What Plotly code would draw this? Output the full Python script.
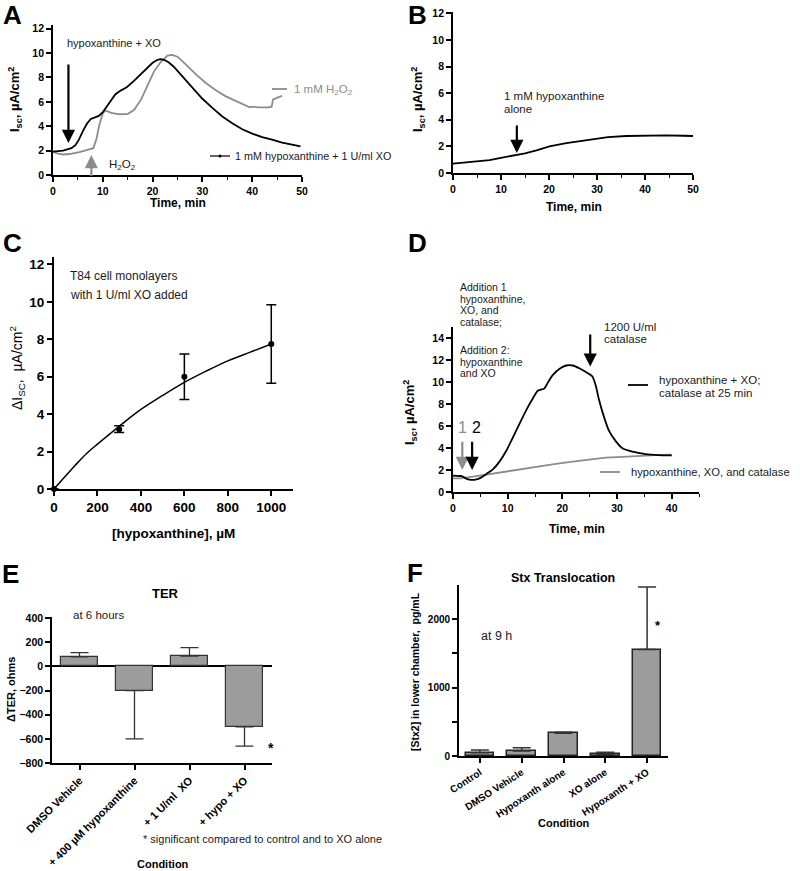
import plotly.graph_objects as go

W, H = 800, 871
FONT = "Liberation Sans, Arial, Helvetica, sans-serif"
NARROW = "Liberation Sans Narrow, Arial Narrow, Liberation Sans, Arial, sans-serif"
GRAY = "#8c8c8c"
BARC = "#9c9c9c"

# ---------------- data ----------------
# Panel A
a_t_hx = [0, 1, 2, 2.7, 3.2, 3.7, 4.5, 5.2, 6, 6.8, 7.6, 8.4, 9.2, 10, 10.8, 11.6, 12.5, 13.5, 14.8,
          16.2, 17.5, 18.8, 20, 21, 21.6, 22.3, 23.2, 24.2, 26, 28, 30, 32, 34, 36, 38, 40, 42, 44,
          46, 48, 49.7]
a_v_hx = [1.92, 1.95, 2.0, 2.08, 2.15, 2.2, 2.45, 2.9, 3.6, 4.2, 4.6, 4.75, 4.85, 5.15, 5.6, 6.15,
          6.6, 6.9, 7.2, 7.7, 8.2, 8.75, 9.2, 9.45, 9.5, 9.45, 9.25, 8.9, 8.1, 7.15, 6.25, 5.5, 4.8,
          4.25, 3.75, 3.4, 3.1, 2.9, 2.65, 2.5, 2.35]
a_t_h2o2 = [0, 1, 2, 3.3, 5.3, 7.3, 8.1, 8.7, 9.3, 10, 10.5, 11.7, 13.3, 15, 16.3, 17.7, 19, 20.3,
            21.7, 23, 23.9, 25, 26.7, 28.7, 30.7, 32.7, 34.7, 36.7, 38.7, 39.5, 40, 41.3, 43.3,
            43.9, 44.2, 45, 45.7, 46]
a_v_h2o2 = [1.9, 1.75, 1.68, 1.72, 1.88, 2.08, 2.2, 2.9, 4.1, 5.05, 5.3, 5.1, 4.98, 5.0, 5.35, 6.2,
            7.3, 8.5, 9.3, 9.8, 9.85, 9.7, 9.05, 8.25, 7.55, 6.95, 6.45, 6.05, 5.7, 5.55, 5.6,
            5.55, 5.55, 5.6, 6.2, 6.3, 6.45, 6.5]
a_hx_add = 3.1      # min, hypoxanthine + XO added
a_h2o2_add = 7.7    # min, H2O2 added

# Panel B
b_t = [0, 2.8, 7.6, 9.7, 12.5, 14.6, 15, 17.4, 20.1, 23.6, 27.1, 29.9, 32.3, 36.1, 40.3, 44.4, 47.9, 50]
b_v = [0.7, 0.8, 0.97, 1.12, 1.3, 1.4, 1.48, 1.7, 2.0, 2.25, 2.45, 2.6, 2.7, 2.78, 2.83, 2.83, 2.8, 2.78]
b_add = 13.3

# Panel C
c_conc = [0, 300, 600, 1000]
c_delta = [0, 3.2, 6.0, 7.75]
c_err = [0, 0.18, 1.22, 2.1]
c_fit_conc = [0, 50, 100, 150, 200, 300, 400, 500, 600, 700, 800, 900, 1000]
c_fit_delta = [0, 0.65, 1.3, 1.9, 2.4, 3.35, 4.25, 5.0, 5.7, 6.3, 6.85, 7.3, 7.75]

# Panel D
d_t_hx = [0, 1, 1.6, 2.5, 3.4, 4.3, 5.2, 6.1, 7.3, 8.5, 9.8, 11, 12.2, 13.4, 14.6, 15.5, 16.1, 16.7,
          17.3, 18.2, 19.5, 20.7, 21.9, 23.1, 24.3, 25.5, 26.1, 26.7, 27.6, 28.5, 29.8, 31, 32.8,
          35.2, 37.6, 40]
d_v_hx = [1.48, 1.45, 1.45, 1.2, 1.1, 1.15, 1.33, 1.64, 2.06, 2.76, 3.8, 5.0, 6.24, 7.45, 8.5, 9.2,
          9.3, 9.4, 9.9, 10.6, 11.2, 11.5, 11.5, 11.25, 10.9, 10.5, 9.7, 8.4, 6.85, 5.6, 4.6, 3.97,
          3.67, 3.45, 3.36, 3.33]
d_t_cat = [0, 1.3, 3.7, 6.7, 9.8, 12.8, 15.8, 18.8, 21.9, 24.9, 27.9, 31, 34, 37, 40]
d_v_cat = [1.24, 1.24, 1.4, 1.64, 1.85, 2.1, 2.3, 2.55, 2.76, 2.97, 3.12, 3.2, 3.3, 3.36, 3.4]
d_add1 = 1.7
d_add2 = 3.5
d_catalase = 25.1

# Panel E
e_cond = ["DMSO Vehicle", "+ 400 µM hypoxanthine", "+ 1 U/ml  XO", "+ hypo + XO"]
e_dter = [80, -200, 85, -500]
e_err_up = [35, 0, 72, 0]
e_err_down = [0, 400, 0, 160]

# Panel F
f_cond = ["Control", "DMSO Vehicle", "Hypoxanth alone", "XO alone", "Hypoxanth + XO"]
f_stx = [48, 73, 331, 24, 1557]
f_err = [40, 48, 15, 30, 915]

# ---------------- helpers ----------------
def dx(x0, x1):
    return [x0 / W, x1 / W]

def dy(ybottom, ytop):
    return [1 - ybottom / H, 1 - ytop / H]

def ann(text, x, y, size=11, bold=False, color="#1a1a1a", xanchor="left", yanchor="middle",
        angle=0, family=FONT):
    return dict(text=text, x=x / W, y=1 - y / H, xref="paper", yref="paper", showarrow=False,
                xanchor=xanchor, yanchor=yanchor, textangle=angle,
                font=dict(family=family, size=size, color=color,
                          weight="bold" if bold else "normal"))

def arrow(xr, yr, x, y_tip, y_tail, color="black"):
    return dict(x=x, y=y_tip, ax=x, ay=y_tail, xref=xr, yref=yr, axref=xr, ayref=yr,
                showarrow=True, arrowhead=2, arrowsize=1.2, arrowwidth=2.2,
                arrowcolor=color, text="")

def axis(**kw):
    base = dict(showline=True, linecolor="black", linewidth=1.8, ticks="outside", ticklen=5,
                tickwidth=1.5, tickcolor="black", showgrid=False, zeroline=False,
                automargin=False,
                tickfont=dict(family=FONT, size=10.5, color="black", weight="bold"),
                fixedrange=True)
    base.update(kw)
    return base

minor5 = dict(dtick=5, ticks="outside", ticklen=3, tickwidth=1.2, tickcolor="black")

fig = go.Figure()

# A
fig.add_trace(go.Scatter(x=a_t_h2o2, y=a_v_h2o2, mode="lines", line=dict(color=GRAY, width=1.8),
                         xaxis="x", yaxis="y"))
fig.add_trace(go.Scatter(x=a_t_hx, y=a_v_hx, mode="lines", line=dict(color="black", width=1.8),
                         xaxis="x", yaxis="y"))
# B
fig.add_trace(go.Scatter(x=b_t, y=b_v, mode="lines", line=dict(color="black", width=1.8),
                         xaxis="x2", yaxis="y2"))
# C
fig.add_trace(go.Scatter(x=c_fit_conc, y=c_fit_delta, mode="lines",
                         line=dict(color="black", width=1.5, shape="spline"),
                         xaxis="x3", yaxis="y3", cliponaxis=False))
fig.add_trace(go.Scatter(x=c_conc, y=c_delta, mode="markers", marker=dict(color="black", size=6),
                         error_y=dict(type="data", array=c_err, color="black", thickness=1.5, width=5),
                         xaxis="x3", yaxis="y3", cliponaxis=False))
# D
fig.add_trace(go.Scatter(x=d_t_cat, y=d_v_cat, mode="lines", line=dict(color=GRAY, width=1.8),
                         xaxis="x4", yaxis="y4"))
fig.add_trace(go.Scatter(x=d_t_hx, y=d_v_hx, mode="lines",
                         line=dict(color="black", width=1.8, shape="spline", smoothing=0.6),
                         xaxis="x4", yaxis="y4"))
# E
fig.add_trace(go.Bar(x=e_cond, y=e_dter, width=0.67, xaxis="x5", yaxis="y5",
                     marker=dict(color=BARC, line=dict(color="#333333", width=1.2)),
                     error_y=dict(type="data", symmetric=False, array=e_err_up, arrayminus=e_err_down,
                                  color="#333333", thickness=1.3, width=9)))
# F
fig.add_trace(go.Bar(x=f_cond, y=f_stx, width=0.68, xaxis="x6", yaxis="y6",
                     marker=dict(color=BARC, line=dict(color="#222222", width=1.5)),
                     error_y=dict(type="data", symmetric=False, array=f_err, arrayminus=[0] * len(f_err),
                                  color="#333333", thickness=1.5, width=9)))

layout = dict(
    width=W, height=H, margin=dict(l=0, r=0, t=0, b=0, autoexpand=False), showlegend=False,
    paper_bgcolor="white", plot_bgcolor="white", bargap=0,
    xaxis=axis(domain=dx(53, 302), range=[0, 50], dtick=10, anchor="y", minor=minor5),
    yaxis=axis(domain=dy(175, 25), range=[0, 12.3], dtick=2, anchor="x"),
    xaxis2=axis(domain=dx(453, 693), range=[0, 50], dtick=10, anchor="y2", minor=minor5),
    yaxis2=axis(domain=dy(173, 12), range=[0, 12.1], dtick=2, anchor="x2"),
    xaxis3=axis(domain=dx(54, 293), range=[0, 1100], dtick=200, anchor="y3", linewidth=2,
                tickfont=dict(family=NARROW, size=13.5, color="black", weight="bold")),
    yaxis3=axis(domain=dy(489, 257), range=[0, 12.4], dtick=2, anchor="x3", linewidth=2,
                tickfont=dict(family=NARROW, size=13.5, color="black", weight="bold")),
    xaxis4=axis(domain=dx(453, 699), range=[0, 45], dtick=10, anchor="y4", minor=minor5),
    yaxis4=axis(domain=dy(492, 327), range=[0, 15], dtick=2, anchor="x4"),
    xaxis5=axis(domain=dx(52, 272), range=[-0.5, 3.5], anchor="y5", type="category",
                tickangle=-45, linewidth=1.5,
                tickfont=dict(family=FONT, size=11, color="black", weight="bold")),
    yaxis5=axis(domain=dy(763, 617), range=[-800, 410], dtick=200, anchor="x5", linewidth=1.5,
                zeroline=True, zerolinecolor="black", zerolinewidth=1.5),
    xaxis6=axis(domain=dx(459, 668), range=[-0.5, 4.5], anchor="y6", type="category",
                tickangle=-33, linewidth=1.8,
                tickfont=dict(family=FONT, size=10, color="black", weight="bold")),
    yaxis6=axis(domain=dy(756, 585), range=[0, 2500], anchor="x6", linewidth=1.8,
                tickmode="array", tickvals=[0, 500, 1000, 1500, 2000],
                ticktext=["0", "", "1000", "", "2000"],
                tickfont=dict(family=FONT, size=10, color="black", weight="bold")),
)

isc = "I<sub>sc</sub>, µA/cm<sup>2</sup>"
anns = [
    # panel letters
    ann("A", 12, 15, size=26, bold=True, color="black", xanchor="center"),
    ann("B", 417, 15, size=26, bold=True, color="black", xanchor="center"),
    ann("C", 12, 243, size=26, bold=True, color="black", xanchor="center"),
    ann("D", 417, 243, size=26, bold=True, color="black", xanchor="center"),
    ann("E", 10, 574, size=26, bold=True, color="black", xanchor="center"),
    ann("F", 415, 573, size=26, bold=True, color="black", xanchor="center"),
    # axis titles
    ann(isc, 15, 100, size=13, bold=True, color="black", xanchor="center", angle=-90),
    ann("Time, min", 178, 203, size=12, bold=True, color="black", xanchor="center"),
    ann(isc, 418, 100, size=13, bold=True, color="black", xanchor="center", angle=-90),
    ann("Time, min", 574, 207, size=12, bold=True, color="black", xanchor="center"),
    ann("ΔI<sub>SC</sub>,  µA/cm<sup>2</sup>", 17, 368, size=14, color="black", xanchor="center",
        angle=-90, family=NARROW),
    ann("[hypoxanthine], µM", 173, 533, size=13.5, bold=True, color="black", xanchor="center",
        family=NARROW),
    ann(isc, 410, 412, size=13, bold=True, color="black", xanchor="center", angle=-90),
    ann("Time, min", 577, 529, size=12, bold=True, color="black", xanchor="center"),
    ann("ΔTER, ohms", 11, 690, size=11, bold=True, color="black", xanchor="center", angle=-90),
    ann("Condition", 163, 864, size=11, bold=True, color="black", xanchor="center"),
    ann("[Stx2] in lower chamber,  pg/mL", 415, 672, size=10.5, bold=True, color="black",
        xanchor="center", angle=-90),
    ann("Condition", 564, 823, size=11, bold=True, color="black", xanchor="center"),
    # panel titles
    ann("TER", 165, 593, size=13, bold=True, color="black", xanchor="center"),
    ann("Stx Translocation", 563, 578, size=12.5, bold=True, color="black", xanchor="center"),
    # A texts
    ann("hypoxanthine + XO", 65, 43, size=11),
    ann("H<sub>2</sub>O<sub>2</sub>", 107, 165, size=11.5),
    ann("1 mM H<sub>2</sub>O<sub>2</sub>", 292, 90, size=11.5, color=GRAY),
    ann("1 mM hypoxanthine + 1 U/ml XO", 233, 156, size=10.8),
    # B text
    ann("1 mM hypoxanthine", 502, 96, size=11.5),
    ann("alone", 502, 109, size=11.5),
    # C text
    ann("T84 cell monolayers", 68, 276, size=12, family=NARROW),
    ann("with 1 U/ml XO added", 68, 295, size=12, family=NARROW),
    # D texts
    ann("Addition 1", 458, 287, size=10.5),
    ann("hypoxanthine,", 458, 298.5, size=10.5),
    ann("XO, and", 458, 310, size=10.5),
    ann("catalase;", 458, 321.5, size=10.5),
    ann("Addition 2:", 458, 350, size=10.5),
    ann("hypoxanthine", 458, 361.5, size=10.5),
    ann("and XO", 458, 373, size=10.5),
    ann("1200 U/ml", 602, 327, size=11.5),
    ann("catalase", 602, 339, size=11.5),
    ann("1", 462, 427, size=16, color=GRAY, xanchor="center"),
    ann("2", 476, 427, size=16, color="black", xanchor="center"),
    ann("hypoxanthine + XO;", 657, 380, size=11.5),
    ann("catalase at 25 min", 657, 393, size=11.5),
    ann("hypoxanthine, XO, and catalase", 629, 472, size=11.2),
    # E texts
    ann("at 6 hours", 71, 615, size=11.5),
    ann("*", 271, 748, size=14, bold=True, color="black", xanchor="center"),
    ann("* significant compared to control and to XO alone", 141, 839, size=11),
    # F texts
    ann("at 9 h", 479, 636, size=12.5),
    ann("*", 658, 625, size=13, bold=True, color="black", xanchor="center"),
    # arrows
    arrow("x", "y", a_hx_add, 2.62, 9.18, "black"),
    arrow("x", "y", a_h2o2_add, 1.64, -0.2, GRAY),
    arrow("x2", "y2", b_add, 1.5, 3.68, "black"),
    arrow("x4", "y4", d_add1, 2.0, 4.7, GRAY),
    arrow("x4", "y4", d_add2, 2.0, 4.7, "black"),
    arrow("x4", "y4", d_catalase, 11.4, 14.45, "black"),
]
layout["annotations"] = anns

def seg(x0, x1, y, color, width=1.8):
    return dict(type="line", xref="paper", yref="paper", x0=x0 / W, x1=x1 / W,
                y0=1 - y / H, y1=1 - y / H, line=dict(color=color, width=width))

layout["shapes"] = [
    seg(272, 287, 89, GRAY),
    seg(210, 230, 156, "black", 1.2),
    dict(type="circle", xref="paper", yref="paper", x0=218.5 / W, x1=221.5 / W,
         y0=1 - 157.5 / H, y1=1 - 154.5 / H, fillcolor="black", line=dict(width=0)),
    seg(628, 648, 385, "black"),
    seg(600, 620, 472, GRAY),
]

fig.update_layout(**layout)
fig.write_html("out.html", config={"displayModeBar": False},
               post_script="document.body.style.margin='0';document.body.style.padding='0';")
